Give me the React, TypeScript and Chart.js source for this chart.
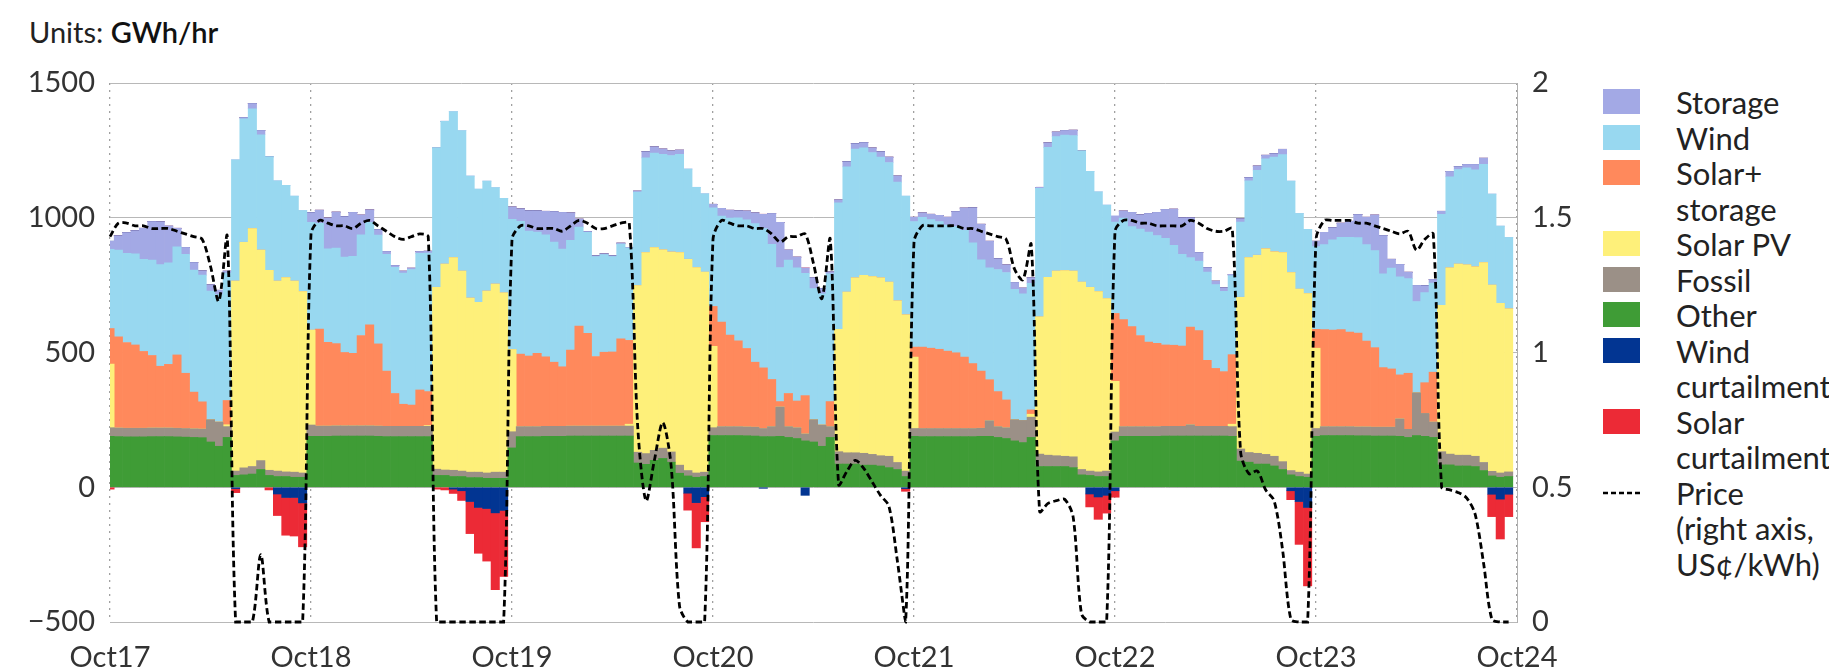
import React, { useEffect, useRef } from 'react';
import { Chart, registerables } from 'chart.js';

Chart.register(...registerables);

// ---------- categories / tick labels ----------
const dayLabels = ['Oct17', 'Oct18', 'Oct19', 'Oct20', 'Oct21', 'Oct22', 'Oct23', 'Oct24'];
const hoursPerDay = 24;
const leftTickValues = [-500, 0, 500, 1000, 1500];
const leftTickLabels = ['\u2212500', '0', '500', '1000', '1500'];
const rightTickValues = [0, 0.5, 1, 1.5, 2];
const rightTickLabels = ['0', '0.5', '1', '1.5', '2'];
const unitsLabel = 'Units:';
const unitsValue = 'GWh/hr';

// ---------- series (GWh/hr, one value per hour, 7 days x 24 h) ----------
const other = [
  189, 188, 187, 187, 187, 188, 188, 188, 187, 186, 185, 184, 168, 152, 185, 44, 46, 49, 66, 44, 40, 40, 37, 37,
  189, 189, 189, 190, 190, 190, 190, 190, 189, 188, 188, 188, 188, 188, 188, 44, 44, 40, 40, 36, 36, 33, 33, 33,
  146, 188, 188, 188, 189, 189, 189, 190, 190, 190, 190, 190, 190, 190, 190, 90, 85, 100, 107, 93, 52, 42, 37, 40,
  192, 192, 192, 192, 191, 190, 188, 188, 189, 185, 181, 172, 168, 152, 185, 86, 86, 86, 82, 82, 79, 73, 66, 40,
  189, 188, 188, 188, 188, 188, 188, 188, 189, 189, 185, 181, 172, 166, 185, 77, 77, 77, 77, 73, 46, 44, 40, 40,
  172, 189, 189, 189, 189, 189, 190, 190, 190, 190, 190, 190, 190, 190, 189, 97, 93, 86, 86, 79, 66, 46, 40, 37,
  189, 192, 192, 192, 192, 191, 191, 190, 190, 190, 189, 185, 192, 189, 185, 83, 83, 79, 79, 77, 62, 42, 37, 40,
];
const fossil = [
  32, 32, 32, 32, 32, 32, 32, 32, 32, 32, 32, 32, 83, 90, 40, 16, 26, 28, 33, 19, 20, 17, 19, 16,
  42, 38, 38, 38, 38, 38, 38, 38, 38, 38, 38, 38, 38, 38, 38, 23, 20, 23, 20, 20, 20, 20, 23, 23,
  60, 37, 37, 37, 37, 37, 37, 37, 37, 37, 37, 37, 37, 37, 37, 40, 40, 37, 38, 38, 30, 20, 16, 16,
  29, 33, 33, 33, 33, 33, 30, 37, 109, 40, 40, 26, 83, 79, 40, 46, 42, 42, 44, 40, 38, 42, 26, 20,
  29, 30, 30, 30, 30, 30, 30, 30, 30, 58, 40, 40, 79, 82, 75, 46, 42, 40, 38, 40, 20, 16, 17, 20,
  33, 36, 36, 36, 36, 36, 36, 36, 36, 42, 36, 36, 36, 36, 36, 45, 36, 40, 36, 36, 29, 16, 16, 12,
  29, 33, 33, 33, 33, 33, 33, 33, 33, 33, 65, 30, 159, 85, 57, 49, 40, 40, 40, 38, 30, 17, 16, 17,
];
const solarPV = [
  236, 0, 0, 0, 0, 0, 0, 0, 0, 0, 0, 0, 0, 0, 7, 705, 837, 883, 781, 742, 705, 721, 709, 673,
  352, 0, 0, 0, 0, 0, 0, 0, 0, 0, 0, 0, 0, 0, 3, 675, 764, 789, 742, 646, 630, 675, 698, 665,
  305, 0, 0, 0, 0, 0, 0, 0, 0, 0, 0, 0, 0, 0, 7, 618, 746, 752, 736, 742, 789, 784, 762, 742,
  302, 0, 0, 0, 0, 0, 0, 0, 0, 0, 0, 0, 0, 0, 0, 454, 596, 649, 660, 660, 660, 646, 600, 580,
  265, 0, 0, 0, 0, 0, 0, 0, 0, 0, 0, 0, 0, 0, 11, 509, 660, 685, 689, 689, 695, 682, 669, 640,
  188, 0, 0, 0, 0, 0, 0, 0, 0, 0, 0, 0, 0, 0, 9, 563, 723, 735, 763, 759, 776, 735, 679, 670,
  298, 0, 0, 0, 0, 0, 0, 0, 0, 0, 0, 0, 0, 0, 0, 543, 691, 709, 706, 703, 742, 691, 629, 605,
];
const solarStorage = [
  132, 338, 318, 309, 285, 269, 229, 236, 272, 205, 136, 101, 0, 0, 90, 0, 0, 0, 0, 0, 0, 0, 0, 0,
  0, 360, 311, 305, 272, 269, 335, 375, 305, 205, 122, 82, 79, 135, 126, 0, 0, 0, 0, 0, 0, 0, 0, 0,
  0, 269, 262, 272, 258, 238, 221, 282, 371, 344, 258, 274, 275, 324, 311, 0, 0, 0, 0, 0, 0, 0, 0, 0,
  148, 388, 340, 318, 291, 241, 225, 175, 20, 123, 99, 142, 0, 0, 93, 0, 0, 0, 0, 0, 0, 0, 0, 0,
  37, 302, 298, 294, 287, 281, 265, 241, 212, 152, 130, 103, 0, 0, 16, 0, 0, 0, 0, 0, 0, 0, 0, 0,
  252, 397, 371, 338, 314, 309, 302, 301, 298, 362, 355, 245, 215, 203, 258, 0, 0, 0, 0, 0, 0, 0, 0, 0,
  70, 360, 358, 360, 351, 348, 318, 295, 221, 216, 163, 208, 0, 114, 185, 0, 0, 0, 0, 0, 0, 0, 0, 0,
];
const wind = [
  294, 322, 331, 338, 342, 354, 377, 377, 401, 441, 453, 470, 477, 473, 473, 450, 458, 444, 428, 421, 372, 342, 315, 301,
  400, 392, 347, 354, 354, 360, 374, 380, 404, 433, 468, 487, 503, 507, 514, 517, 530, 542, 521, 453, 420, 408, 358, 351,
  483, 493, 464, 450, 453, 446, 437, 407, 367, 375, 371, 362, 354, 351, 342, 347, 351, 351, 354, 358, 364, 335, 298, 291,
  366, 393, 434, 457, 477, 514, 517, 501, 497, 495, 494, 454, 486, 487, 474, 469, 465, 478, 473, 460, 448, 444, 440, 440,
  466, 482, 477, 474, 468, 468, 470, 448, 413, 415, 453, 473, 483, 470, 470, 477, 482, 499, 503, 503, 487, 430, 370, 347,
  339, 377, 371, 395, 408, 400, 396, 371, 340, 258, 258, 327, 311, 298, 293, 279, 285, 315, 334, 351, 363, 339, 281, 238,
  307, 315, 335, 342, 351, 354, 358, 360, 348, 374, 364, 351, 338, 334, 331, 338, 338, 351, 360, 360, 364, 338, 287, 265,
];
const storage = [
  30, 53, 77, 86, 115, 143, 159, 136, 69, 26, 28, 16, 23, 16, 7, 0, 5, 20, 16, 0, 0, 0, 0, 0,
  36, 49, 114, 134, 150, 163, 73, 46, 20, 11, 7, 7, 5, 7, 7, 0, 0, 0, 0, 0, 0, 0, 0, 0,
  46, 46, 75, 79, 87, 113, 136, 102, 30, 3, 3, 3, 3, 4, 3, 4, 23, 23, 20, 17, 16, 0, 0, 0,
  13, 29, 29, 26, 33, 40, 53, 115, 168, 37, 40, 20, 40, 19, 7, 11, 19, 20, 20, 17, 20, 20, 23, 0,
  16, 16, 20, 23, 29, 56, 83, 130, 132, 99, 40, 28, 26, 21, 20, 4, 17, 17, 17, 20, 0, 0, 0, 0,
  23, 26, 53, 53, 69, 86, 107, 134, 136, 148, 32, 17, 13, 13, 5, 12, 12, 16, 13, 13, 20, 0, 0, 0,
  20, 46, 45, 53, 60, 86, 102, 132, 142, 33, 46, 24, 60, 26, 13, 11, 20, 11, 13, 20, 23, 0, 0, 0,
];
const windCurtailment = [
  0, 0, 0, 0, 0, 0, 0, 0, 0, 0, 0, 0, 0, 0, 0, -5, 0, 0, 0, 0, -25, -38, -38, -58,
  0, 0, 0, 0, 0, 0, 0, 0, 0, 0, 0, 0, 0, 0, 0, 0, 0, -7, -13, -53, -75, -79, -95, -86,
  0, 0, 0, 0, 0, 0, 0, 0, 0, 0, 0, 0, 0, 0, 0, 0, 0, 0, 0, 0, 0, -22, -57, -35,
  0, 0, 0, 0, 0, 0, -4, 0, 0, 0, 0, -30, 0, 0, 0, 0, 0, 0, 0, 0, 0, 0, 0, -5,
  0, 0, 0, 0, 0, 0, 0, 0, 0, 0, 0, 0, 0, 0, 0, 0, 0, 0, 0, 0, 0, -25, -36, -30,
  -13, 0, 0, 0, 0, 0, 0, 0, 0, 0, 0, 0, 0, 0, 0, 0, 0, 0, 0, 0, 0, -13, -53, -75,
  0, 0, 0, 0, 0, 0, 0, 0, 0, 0, 0, 0, 0, 0, 0, 0, 0, 0, 0, 0, 0, -26, -44, -26,
];
const solarCurtailment = [
  -7, 0, 0, 0, 0, 0, 0, 0, 0, 0, 0, 0, 0, 0, 0, -15, 0, 0, 0, -10, -80, -140, -143, -163,
  0, 0, 0, 0, 0, 0, 0, 0, 0, 0, 0, 0, 0, 0, 0, -7, -10, -16, -36, -119, -170, -195, -285, -245,
  0, 0, 0, 0, 0, 0, 0, 0, 0, 0, 0, 0, 0, 0, 0, 0, 0, 0, 0, 0, 0, -63, -168, -93,
  0, 0, 0, 0, 0, 0, 0, 0, 0, 0, 0, 0, 0, 0, 0, 0, 0, 0, 0, 0, 0, 0, 0, -10,
  0, 0, 0, 0, 0, 0, 0, 0, 0, 0, 0, 0, 0, 0, 0, 0, 0, 0, 0, 0, 0, -48, -83, -66,
  -24, 0, 0, 0, 0, 0, 0, 0, 0, 0, 0, 0, 0, 0, 0, 0, 0, 0, 0, 0, 0, -33, -159, -291,
  0, 0, 0, 0, 0, 0, 0, 0, 0, 0, 0, 0, 0, 0, 0, 0, 0, 0, 0, 0, 0, -83, -148, -83,
];
// Price, US cents/kWh (right axis)
const price = [
  1.43, 1.48, 1.48, 1.47, 1.47, 1.46, 1.46, 1.46, 1.45, 1.44, 1.43, 1.42, 1.32, 1.19, 1.43, 0, 0, 0, 0.25, 0, 0, 0, 0, 0,
  1.44, 1.49, 1.48, 1.47, 1.47, 1.46, 1.48, 1.49, 1.47, 1.45, 1.43, 1.42, 1.43, 1.44, 1.43, 0, 0, 0, 0, 0, 0, 0, 0, 0,
  1.42, 1.47, 1.47, 1.46, 1.46, 1.46, 1.45, 1.47, 1.49, 1.48, 1.46, 1.46, 1.47, 1.48, 1.48, 0.73, 0.45, 0.6, 0.74, 0.58, 0.06, 0, 0, 0,
  1.42, 1.49, 1.48, 1.47, 1.47, 1.46, 1.46, 1.44, 1.41, 1.43, 1.43, 1.44, 1.33, 1.2, 1.42, 0.51, 0.56, 0.6, 0.57, 0.52, 0.47, 0.43, 0.23, 0,
  1.41, 1.47, 1.47, 1.47, 1.47, 1.47, 1.46, 1.46, 1.45, 1.44, 1.43, 1.42, 1.31, 1.27, 1.4, 0.41, 0.44, 0.45, 0.455, 0.39, 0.03, 0, 0, 0,
  1.45, 1.49, 1.49, 1.48, 1.48, 1.47, 1.47, 1.47, 1.47, 1.49, 1.48, 1.46, 1.45, 1.45, 1.46, 0.63, 0.55, 0.56, 0.49, 0.45, 0.27, 0.01, 0, 0,
  1.42, 1.49, 1.49, 1.49, 1.49, 1.48, 1.48, 1.47, 1.46, 1.45, 1.44, 1.45, 1.38, 1.42, 1.44, 0.5, 0.49, 0.48, 0.46, 0.4, 0.22, 0.01, 0, 0,
];

// ---------- legend ----------
const seriesNames = ['Storage', 'Wind', 'Solar+ storage', 'Solar PV', 'Fossil', 'Other', 'Wind curtailment', 'Solar curtailment'];
const legendLines: string[][] = [
  ['Storage'],
  ['Wind'],
  ['Solar+', 'storage'],
  ['Solar PV'],
  ['Fossil'],
  ['Other'],
  ['Wind', 'curtailment'],
  ['Solar', 'curtailment'],
  ['Price', '(right axis,', 'US\u00a2/kWh)'],
];

const COLORS = {
  storage: '#a3a9e5',
  wind: '#98d8f0',
  solarStorage: '#ff895c',
  solarPV: '#fef07a',
  fossil: '#9b9087',
  other: '#3f9c36',
  windCurt: '#023592',
  solarCurt: '#ec2a36',
};
const legendColors = [COLORS.storage, COLORS.wind, COLORS.solarStorage, COLORS.solarPV, COLORS.fossil, COLORS.other, COLORS.windCurt, COLORS.solarCurt, null];

const FONT_FAMILY = 'Lato, "Noto Sans", "DejaVu Sans", sans-serif';

export default function App() {
  const canvasRef = useRef<HTMLCanvasElement>(null);

  useEffect(() => {
    const canvas = canvasRef.current;
    if (!canvas) return;
    const tickFont = { family: FONT_FAMILY, size: 29 };
    const toXY = (arr: number[]) => arr.map((y, i) => ({ x: i, y }));
    const bar = (label: string, arr: number[], color: string) => ({
      type: 'bar' as const,
      label,
      data: toXY(arr),
      backgroundColor: color,
      borderWidth: 0,
      barPercentage: 1,
      categoryPercentage: 1,
      stack: 'gen',
      xAxisID: 'x',
      yAxisID: 'y',
      clip: 0,
    });

    const chart = new Chart(canvas, {
      type: 'bar',
      data: {
        datasets: [
          bar('Other', other, COLORS.other),
          bar('Fossil', fossil, COLORS.fossil),
          bar('Solar PV', solarPV, COLORS.solarPV),
          bar(seriesNames[2], solarStorage, COLORS.solarStorage),
          bar('Wind', wind, COLORS.wind),
          bar('Storage', storage, COLORS.storage),
          bar('Wind curtailment', windCurtailment, COLORS.windCurt),
          bar('Solar curtailment', solarCurtailment, COLORS.solarCurt),
          {
            type: 'line' as const,
            label: 'Price',
            data: toXY(price),
            xAxisID: 'x',
            yAxisID: 'y2',
            borderColor: '#000',
            borderWidth: 2.8,
            borderDash: [6.5, 3.5],
            pointRadius: 0,
            tension: 0.3,
            fill: false,
            order: -1,
            clip: 6,
          } as any,
        ],
      },
      options: {
        responsive: false,
        animation: false,
        devicePixelRatio: 1,
        layout: { padding: { top: 83, left: 0, right: 0, bottom: 0 } },
        plugins: { legend: { display: false }, tooltip: { enabled: false }, title: { display: false } },
        scales: {
          x: {
            type: 'linear',
            min: 0,
            max: dayLabels.length * hoursPerDay - hoursPerDay,
            offset: false,
            stacked: true,
            z: 1,
            grid: { offset: false, color: '#a0a0a0', lineWidth: 1.3, drawTicks: false },
            border: { display: false, dash: [2, 5] },
            ticks: {
              stepSize: hoursPerDay,
              autoSkip: false,
              maxRotation: 0,
              padding: 18,
              color: '#333',
              font: tickFont,
              callback: (v: any) => dayLabels[Math.round(Number(v) / hoursPerDay)] ?? '',
            },
            afterFit: (s: any) => { s.height = 47; },
          },
          y: {
            position: 'left',
            min: -500,
            max: 1500,
            stacked: true,
            grid: { color: '#b8b8b8', lineWidth: 1, drawTicks: false },
            border: { display: false },
            ticks: {
              stepSize: 500,
              padding: 15,
              color: '#333',
              font: tickFont,
              callback: (v: any) => {
                const i = leftTickValues.indexOf(Number(v));
                return i >= 0 ? leftTickLabels[i] : '';
              },
            },
            afterFit: (s: any) => { s.width = 110; },
          },
          y2: {
            position: 'right',
            min: 0,
            max: 2,
            grid: { display: false, drawTicks: false },
            border: { display: true, color: '#b0b0b0', width: 1 },
            ticks: {
              stepSize: 0.5,
              padding: 15,
              color: '#333',
              font: tickFont,
              callback: (v: any) => {
                const i = rightTickValues.indexOf(Number(v));
                return i >= 0 ? rightTickLabels[i] : '';
              },
            },
            afterFit: (s: any) => { s.width = 83; },
          },
        },
      } as any,
    });
    return () => chart.destroy();
  }, []);

  const LINE_H = 35.5;
  const LEGEND_TOP = 85;
  let row = 0;
  const legendNodes: React.ReactNode[] = [];
  legendLines.forEach((lines, idx) => {
    const top = LEGEND_TOP + row * LINE_H;
    const color = legendColors[idx];
    if (color) {
      legendNodes.push(
        <div key={'b' + idx} style={{ position: 'absolute', left: 1603, top: top + 4, width: 37, height: 25, background: color }} />
      );
    } else {
      legendNodes.push(
        <svg key={'b' + idx} style={{ position: 'absolute', left: 1603, top: top + LINE_H / 2 - 3 }} width={38} height={6}>
          <line x1={0} y1={3} x2={38} y2={3} stroke="#000" strokeWidth={2.6} strokeDasharray="5 3" />
        </svg>
      );
    }
    lines.forEach((t, j) => {
      legendNodes.push(
        <div
          key={'t' + idx + '_' + j}
          style={{
            position: 'absolute', left: 1676, top: top + j * LINE_H, height: LINE_H, lineHeight: LINE_H + 'px',
            fontSize: 31, color: '#222', whiteSpace: 'nowrap', fontFamily: FONT_FAMILY,
          }}
        >
          {t}
        </div>
      );
    });
    row += lines.length;
  });

  return (
    <div style={{ position: 'absolute', left: 0, top: 0, width: 1829, height: 669, overflow: 'hidden', background: '#fff', fontFamily: FONT_FAMILY }}>
      <div style={{ position: 'absolute', left: 29, top: 14, fontSize: 29, lineHeight: '35px', color: '#222', whiteSpace: 'nowrap' }}>
        <span>{unitsLabel} </span>
        <span style={{ fontWeight: 600, color: '#111' }}>{unitsValue}</span>
      </div>
      <canvas ref={canvasRef} width={1600} height={669} style={{ position: 'absolute', left: 0, top: 0, width: 1600, height: 669 }} />
      {legendNodes}
    </div>
  );
}
